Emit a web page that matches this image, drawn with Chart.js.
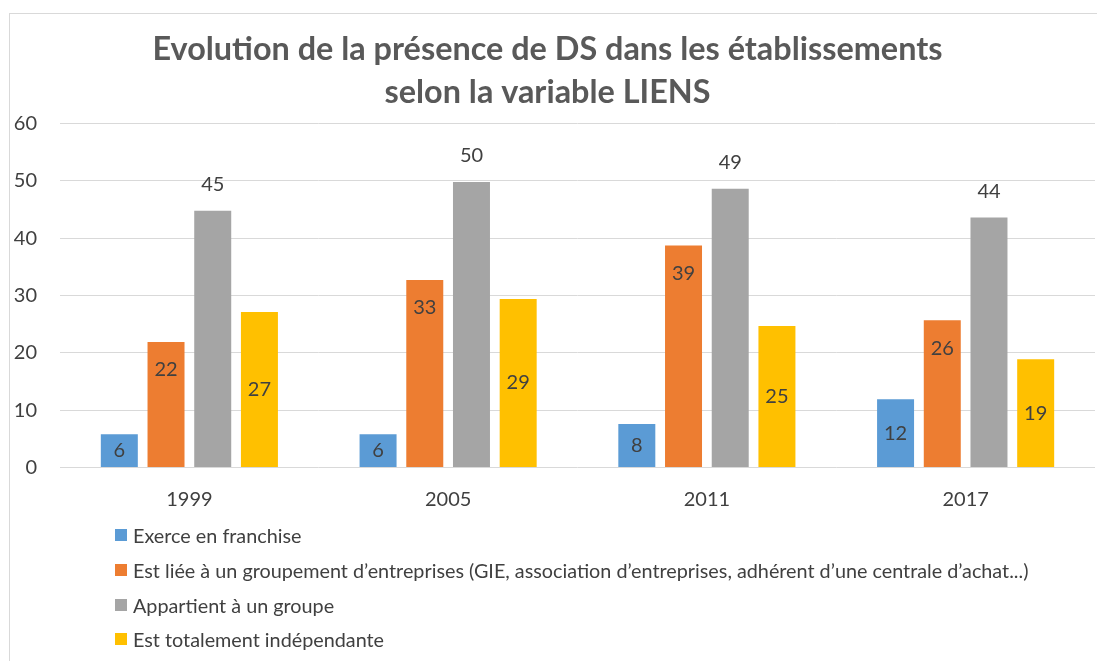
<!DOCTYPE html>
<html>
<head>
<meta charset="utf-8">
<script src="https://cdn.jsdelivr.net/npm/chart.js@4.4.0/dist/chart.umd.min.js"></script>
<style>
  body { margin: 0; background: #fff; }
  #wrap { position: relative; width: 1097px; height: 661px; overflow: hidden; }
  #frame { position: absolute; left: 9px; top: 13px; width: 1300px; height: 900px; border: 1px solid #d9d9d9; }
  #myChart { position: absolute; left: 0; top: 0; }
  #legend { position: absolute; left: 115px; top: 518px; font-family: Lato, sans-serif; font-size: 19.8px; color: #404040; }
  #legend .item { height: 34.7px; display: flex; align-items: center; white-space: nowrap; }
  #legend .box { display: inline-block; width: 12px; height: 12px; margin-right: 6px; }
</style>
</head>
<body>
<div id="wrap">
  <div id="frame"></div>
  <canvas id="myChart" width="1097" height="661"></canvas>
  <div id="legend"></div>
</div>
<script>
const years = ['1999', '2005', '2011', '2017']
const franchise = [5.8, 5.8, 7.6, 11.9]
const groupement = [21.9, 32.7, 38.7, 25.7]
const groupe = [44.8, 49.8, 48.6, 43.6]
const independante = [27.1, 29.4, 24.7, 18.9]
const yTicks = [0, 10, 20, 30, 40, 50, 60]

const seriesNames = [
    'Exerce en franchise',
    'Est liée à un groupement d’entreprises (GIE, association d’entreprises, adhérent d’une centrale d’achat...)',
    'Appartient à un groupe',
    'Est totalement indépendante'
]
const colors = ['#5B9BD5', '#ED7D31', '#A5A5A5', '#FFC000']
// where each series puts its value label
const labelPlace = ['center', 'insideEnd', 'outsideEnd', 'center']

const canvas = document.getElementById('myChart')

const barLabels = {
    id: 'barLabels',
    afterDatasetsDraw(chart) {
        const ctx = chart.ctx
        ctx.save()
        ctx.font = '20px Lato'
        ctx.fillStyle = '#404040'
        ctx.textAlign = 'center'
        ctx.textBaseline = 'middle'
        chart.data.datasets.forEach((ds, i) => {
            chart.getDatasetMeta(i).data.forEach((bar, j) => {
                let y
                if (labelPlace[i] === 'center') y = (bar.y + bar.base) / 2
                else if (labelPlace[i] === 'insideEnd') y = bar.y + 28
                else y = bar.y - 26
                ctx.fillText(String(Math.round(ds.data[j])), bar.x, y)
            })
        })
        ctx.restore()
    }
}

const datasets = [franchise, groupement, groupe, independante].map((d, i) => ({
    label: seriesNames[i],
    data: d,
    backgroundColor: colors[i],
    categoryPercentage: 0.722,
    barPercentage: 0.792,
}))

const myChart = new Chart(canvas, {
    type: 'bar',
    data: { labels: years, datasets },
    plugins: [barLabels],
    options: {
        responsive: false,
        animation: false,
        layout: { padding: { left: 0, right: 2, top: 0, bottom: 133.5 } },
        plugins: {
            legend: { display: false },
            tooltip: { enabled: false },
            title: {
                display: true,
                text: ['Evolution de la présence de DS dans les établissements', 'selon la variable LIENS'],
                color: '#595959',
                font: { family: 'Lato', size: 32.4, weight: 'bold', lineHeight: 1.327 },
                padding: { top: 28.5, bottom: 9 },
            },
        },
        scales: {
            x: {
                grid: { display: false },
                border: { display: false },
                ticks: { color: '#404040', font: { family: 'Lato', size: 20 }, padding: 12 },
                afterFit(scale) { scale.height = 60 },
            },
            y: {
                min: 0,
                max: 60,
                afterBuildTicks(scale) { scale.ticks = yTicks.map(v => ({ value: v })) },
                grid: { color: '#d9d9d9', lineWidth: 1, drawTicks: false },
                border: { display: false },
                ticks: { color: '#404040', font: { family: 'Lato', size: 20 }, padding: 23 },
                afterFit(scale) { scale.width = 60 },
            },
        },
    },
})

const legend = document.getElementById('legend')
seriesNames.forEach((name, i) => {
    const row = document.createElement('div')
    row.className = 'item'
    row.innerHTML = "<span class='box' style='background:" + colors[i] + "'></span><span>" + name + "</span>"
    legend.appendChild(row)
})
</script>
</body>
</html>
